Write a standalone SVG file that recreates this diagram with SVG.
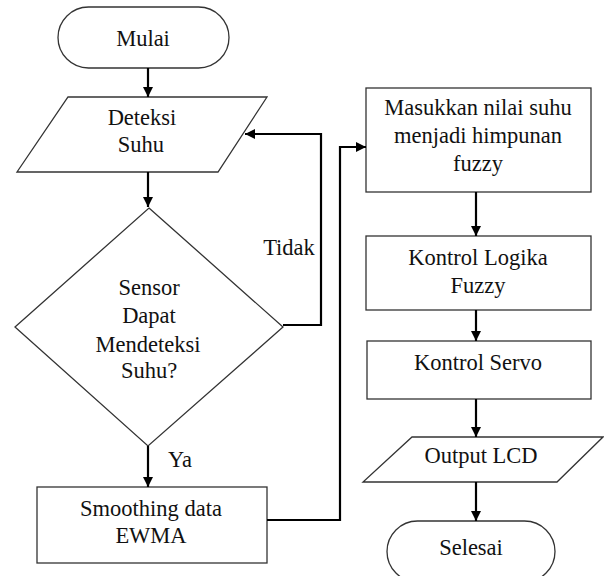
<svg xmlns="http://www.w3.org/2000/svg" width="604" height="576" viewBox="0 0 604 576">
<style>
.s{fill:#fff;stroke:#333;stroke-width:1.3}
.t{font-family:'Liberation Serif','Times New Roman','DejaVu Serif',serif;font-size:22.5px;fill:#111;text-anchor:middle}
.c{fill:none;stroke:#000;stroke-width:2.2}
</style>
<defs>
<marker id="a" markerWidth="10" markerHeight="10" viewBox="0 0 10 10" refX="10" refY="5" orient="auto" markerUnits="userSpaceOnUse">
<path d="M0,0 L10,5 L0,10 z" fill="#000"/>
</marker>
</defs>
<rect width="604" height="576" fill="#fff"/>
<g id="mulai"><rect class="s" x="58" y="7" width="171" height="61" rx="30.5"/><text class="t" x="143" y="46" font-family="Liberation Serif, serif">Mulai</text></g>
<g id="deteksi"><polygon class="s" points="68,97 267,97 218,172 17,172"/><text class="t" x="142" y="125">Deteksi</text><text class="t" x="141" y="152">Suhu</text></g>
<g id="sensor"><polygon class="s" points="149,208 283,327 148,446 15,327"/><text class="t" x="149" y="295">Sensor</text><text class="t" x="149" y="323">Dapat</text><text class="t" x="148" y="352">Mendeteksi</text><text class="t" x="149" y="378">Suhu?</text></g>
<g id="smoothing"><rect class="s" x="37" y="487" width="230" height="76"/><text class="t" x="151" y="516">Smoothing data</text><text class="t" x="151" y="543">EWMA</text></g>
<g id="masukkan"><rect class="s" x="366" y="88" width="225" height="104"/><text class="t" x="478" y="115">Masukkan nilai suhu</text><text class="t" x="478" y="143">menjadi himpunan</text><text class="t" x="478" y="171">fuzzy</text></g>
<g id="logika"><rect class="s" x="366" y="236" width="225" height="74"/><text class="t" x="478" y="265">Kontrol Logika</text><text class="t" x="478" y="293">Fuzzy</text></g>
<g id="servo"><rect class="s" x="367" y="341" width="224" height="58"/><text class="t" x="478" y="370">Kontrol Servo</text></g>
<g id="output"><polygon class="s" points="412,437 603,437 557,482 363,482"/><text class="t" x="481" y="463">Output LCD</text></g>
<g id="selesai"><rect class="s" x="387" y="521" width="168" height="61" rx="30.5"/><text class="t" x="471" y="555">Selesai</text></g>
<g id="connectors">
<path class="c" d="M148,68 V97" marker-end="url(#a)"/>
<path class="c" d="M148,172 V207" marker-end="url(#a)"/>
<path class="c" d="M283,325 H321 V134 H245" marker-end="url(#a)"/>
<path class="c" d="M148,446 V487" marker-end="url(#a)"/>
<path class="c" d="M267,520 H340 V147 H366" marker-end="url(#a)"/>
<path class="c" d="M476,192 V236" marker-end="url(#a)"/>
<path class="c" d="M476,310 V341" marker-end="url(#a)"/>
<path class="c" d="M476,399 V437" marker-end="url(#a)"/>
<path class="c" d="M476,482 V521" marker-end="url(#a)"/>
<text class="t" x="289" y="255">Tidak</text>
<text class="t" x="180" y="467">Ya</text>
</g>
</svg>
